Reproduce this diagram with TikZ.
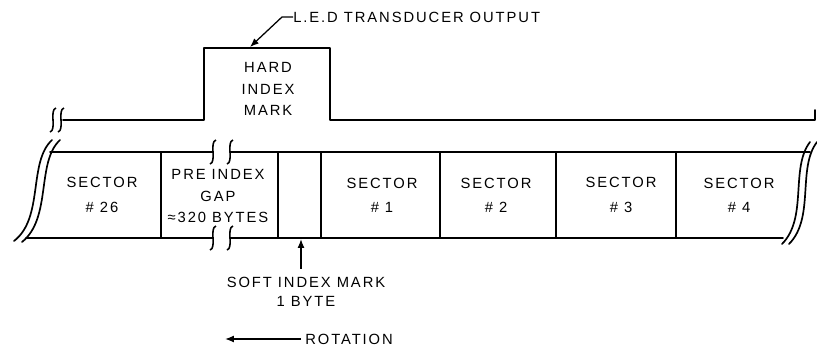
\documentclass[tikz,border=0pt]{standalone}
\usepackage{fontspec}
\setmainfont{Liberation Sans}[LetterSpace=13]
\usetikzlibrary{arrows.meta}

\begin{document}
\begin{tikzpicture}[x=0.025cm, y=-0.025cm, >={Latex[length=2.2mm,width=1.7mm]},
    track/.style={line width=1.2pt, line cap=round, line join=round},
    divider/.style={line width=0.9pt},
    lbl/.style={font=\fontsize{10.5}{15.2}\selectfont, align=center, inner sep=0pt},
    pointer/.style={->, line width=0.9pt},
    gapmark/.pic={\draw[line width=1.1pt] (3,-12) .. controls (-4,-10) and (4,10) .. (-3,12);}]

\useasboundingbox (0,0) rectangle (817,350);

% Transducer signal with the hard index pulse
\draw[track] (63,120) -- (204,120) -- (204,48) -- (330,48) -- (330,120)
  -- (815,120) -- (815,110);
\pic at (53,120) {gapmark};
\pic at (61,120) {gapmark};

% Track band
\draw[track] (50,152) -- (213,152);
\draw[track] (230,152) -- (810,152);
\draw[track] (26,238) -- (213,238);
\draw[track] (230,238) -- (783,238);
\foreach \x in {213,230} {
  \pic at (\x,152) {gapmark};
  \pic at (\x,238) {gapmark};
}

% Torn ends of the band
\draw[track] (52,140) .. controls (28,162) and (44,218) .. (14,241);
\draw[track] (60,140) .. controls (36,162) and (52,218) .. (22,242);
\draw[track] (810,142) .. controls (790,168) and (808,218) .. (782,244);
\draw[track] (817,142) .. controls (797,168) and (815,218) .. (789,244);

% Sector boundaries
\foreach \x in {161,278,321,440,556,676}
  \draw[divider] (\x,152) -- (\x,238);

% Labels in the band
\node[lbl] (hard) at (268,89) {HARD\\INDEX\\MARK};
\node[lbl] (s26) at (102,195) {SECTOR\\[2pt]\# 26};
\node[lbl, font=\fontsize{10.5}{15.6}\selectfont] (gap) at (218,196)
  {PRE INDEX\\GAP\\≈320 BYTES};
\node[lbl] (s1) at (382,195) {SECTOR\\[2pt]\# 1};
\node[lbl] (s2) at (496,195) {SECTOR\\[2pt]\# 2};
\node[lbl] (s3) at (621,195) {SECTOR\\[2pt]\# 3};
\node[lbl] (s4) at (739,195) {SECTOR\\[2pt]\# 4};

% Pointers
\node[lbl, anchor=west] (led) at (293,17) {L.E.D TRANSDUCER OUTPUT};
\coordinate (ledtip) at (250,47);
\draw[pointer] (led.west) -- (282,17) -- (ledtip);

\node[lbl, font=\fontsize{10.5}{13.8}\selectfont] (soft) at (306,292)
  {SOFT INDEX MARK\\1 BYTE};
\coordinate (softtip) at (301,239);
\draw[pointer] (soft.north -| softtip) ++(0,-8) -- (softtip);

\node[lbl, anchor=west] (rot) at (305,339) {ROTATION};
\coordinate (rottip) at (225,339);
\draw[pointer] (rot.west) ++(-4,0) -- (rottip);

\end{tikzpicture}
\end{document}
